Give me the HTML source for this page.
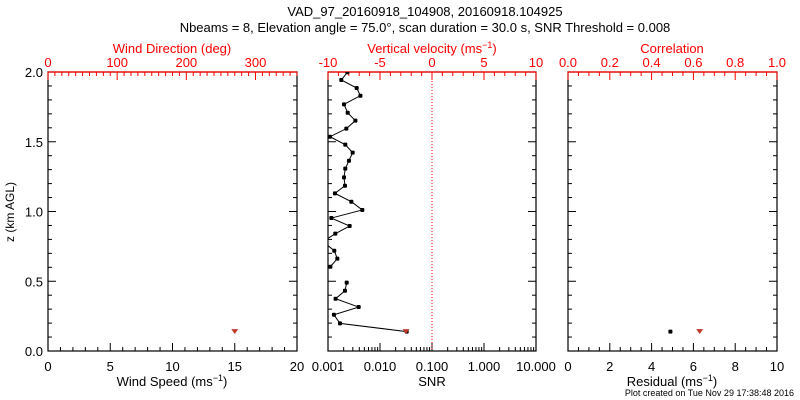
<!DOCTYPE html>
<html><head><meta charset="utf-8"><style>
body{margin:0;background:#fff}
svg{display:block;font-family:"Liberation Sans",sans-serif}
</style></head><body>
<svg id="c" width="800" height="400">
<text x="425" y="16" font-size="13" text-anchor="middle">VAD_97_20160918_104908, 20160918.104925</text>
<text x="425" y="32" font-size="13" text-anchor="middle">Nbeams = 8, Elevation angle = 75.0°, scan duration = 30.0 s, SNR Threshold = 0.008</text>
<text x="14" y="212" font-size="12" text-anchor="middle" transform="rotate(-90 14 212)">z (km AGL)</text>
<text x="794" y="396" font-size="9" text-anchor="end">Plot created on Tue Nov 29 17:38:48 2016</text>
</svg>
<script>
const heights=[1.998,1.943,1.885,1.830,1.768,1.708,1.651,1.594,1.536,1.479,1.422,1.364,1.307,1.245,1.185,1.130,1.070,1.011,0.953,0.896,0.841,0.784,0.719,0.662,0.604,0.547,0.490,0.432,0.375,0.315,0.260,0.198,0.139];
const snrValues=[0.00236,0.0018,0.00356,0.0042,0.00203,0.00239,0.00336,0.00225,0.00109,0.00215,0.00298,0.00253,0.00215,0.00203,0.00212,0.00136,0.00281,0.00457,0.00116,0.00261,0.00138,0.0008,0.00132,0.00151,0.00111,null,0.00229,0.00212,0.0014,0.00389,0.0013,0.0017,0.0326];
const windHeight=[0.139];
const windSpeed=[15];
const windDir=[null];
const vertVel=[-2.5];
const residual=[4.9];
const correlation=[0.63];
const yTicks=["0.0","0.5","1.0","1.5","2.0"];

const NS="http://www.w3.org/2000/svg";
const svg=document.getElementById('c');
function el(t,a,txt){const e=document.createElementNS(NS,t);for(const k in a)e.setAttribute(k,a[k]);if(txt!==undefined)e.textContent=txt;svg.appendChild(e);return e;}
const Y0=351,Y1=72;
const yS=v=>Y0-(v/2)*(Y0-Y1);
const panels=[{x0:48,x1:297,name:'wind'},{x0:328,x1:536,name:'snr'},{x0:568,x1:777,name:'resid'}];

panels.forEach((p,i)=>{const cp=el('clipPath',{id:'cp'+i});const r=document.createElementNS(NS,'rect');r.setAttribute('x',p.x0);r.setAttribute('y',Y1);r.setAttribute('width',p.x1-p.x0);r.setAttribute('height',Y0-Y1);cp.appendChild(r);});

function tick(x1,y1,x2,y2,c){const t=el('line',{x1,y1,x2,y2,stroke:c,'stroke-width':1});}
function label(x,y,s,c,name,anchor){const t=el('text',{x,y,'font-size':13,fill:c,'text-anchor':anchor||'middle'},s);}

panels.forEach((p,i)=>{
  const f=el('rect',{x:p.x0,y:Y1,width:p.x1-p.x0,height:Y0-Y1,fill:'none',stroke:'#000','stroke-width':1.2});
  
  for(let k=0;k<=20;k++){const y=yS(k/10);const L=k%5==0?8:4;
    tick(p.x0,y,p.x0+L,y,'#000');tick(p.x1,y,p.x1-L,y,'#000');}
  const tl=el('line',{x1:p.x0,y1:Y1,x2:p.x1,y2:Y1,stroke:'red','stroke-width':1.2});
  
});
yTicks.forEach((s,k)=>label(43,yS(k*0.5)+5,s,'#000','y-tick-label','end'));

function linAxis(p,min,max,major,minor,top,color,fmt){
  const sx=v=>p.x0+(v-min)/(max-min)*(p.x1-p.x0);
  const n=Math.round((max-min)/minor);
  for(let k=0;k<=n;k++){const v=min+k*minor;const isMaj=Math.abs(v/major-Math.round(v/major))<1e-6;const L=isMaj?8:4;
    if(top)tick(sx(v),Y1,sx(v),Y1+L,color);else tick(sx(v),Y0,sx(v),Y0-L,color);
    if(isMaj)label(sx(v),top?67:371,fmt(v),color,top?'top-tick-label':'bottom-tick-label');}
  return sx;
}
const P=panels;
const sWS=linAxis(P[0],0,20,5,1,false,'#000',v=>String(v));
const sWD=linAxis({x0:48,x1:297},0,360,100,10,true,'red',v=>v<=300?String(v):'');
const sVV=linAxis(P[1],-10,10,5,1,true,'red',v=>String(v));
const sRes=linAxis(P[2],0,10,2,0.5,false,'#000',v=>String(v));
const sCor=linAxis(P[2],0,1,0.2,0.05,true,'red',v=>v.toFixed(1));
const sSNR=v=>P[1].x0+(Math.log10(v)+3)/4*(P[1].x1-P[1].x0);
const logLabels=["0.001","0.010","0.100","1.000","10.000"];
for(let d=-3;d<=1;d++){tick(sSNR(10**d),Y0,sSNR(10**d),Y0-8,'#000');label(sSNR(10**d),371,logLabels[d+3],'#000','snr-tick-label');
  if(d<1)for(let m=2;m<=9;m++){const x=sSNR(m*10**d);tick(x,Y0,x,Y0-4,'#000');}}

function title(x,y,txt,sup,c,name){const t=el('text',{x,y,'font-size':13,fill:c,'text-anchor':'middle'});
  t.innerHTML=txt+(sup?'<tspan dy="-5" font-size="9">−1</tspan><tspan dy="5">)</tspan>':'');}
title(172,386,'Wind Speed (ms',true,'#000','x-axis-title-wind-speed');
title(172,53,'Wind Direction (deg)',false,'red','x-axis-title-wind-direction');
title(432,386,'SNR',false,'#000','x-axis-title-snr');
title(432,53,'Vertical velocity (ms',true,'red','x-axis-title-vertical-velocity');
title(672,386,'Residual (ms',true,'#000','x-axis-title-residual');
title(672,53,'Correlation',false,'red','x-axis-title-correlation');

const z=el('line',{x1:sVV(0),y1:Y1,x2:sVV(0),y2:Y0,stroke:'red','stroke-dasharray':'1,2'});


const g=el('g',{'clip-path':'url(#cp1)'});

let seg=[];const segs=[];
heights.forEach((h,i)=>{const v=snrValues[i];if(v==null){if(seg.length)segs.push(seg);seg=[];}else seg.push([sSNR(v),yS(h)]);});
if(seg.length)segs.push(seg);
segs.forEach(s=>{const pl=document.createElementNS(NS,'polyline');pl.setAttribute('points',s.map(q=>q.join(',')).join(' '));pl.setAttribute('fill','none');pl.setAttribute('stroke','#000');pl.setAttribute('stroke-width','1');
  
  
  g.appendChild(pl);
  s.forEach(q=>{const r=document.createElementNS(NS,'rect');r.setAttribute('x',q[0]-2);r.setAttribute('y',q[1]-2);r.setAttribute('width',4);r.setAttribute('height',4);r.setAttribute('rx',1);r.setAttribute('fill','#000');
    
    
    g.appendChild(r);});});

function mark(x,y,c,name){const m=el('path',{d:`M${x-2.5},${y-2}h5l-2.5,3.5z`,fill:c,stroke:c,'stroke-width':1});
  }
windHeight.forEach((h,i)=>{
  mark(sWS(windSpeed[i]),yS(h),'#c0392b','wind-speed-point');
  mark(sVV(vertVel[i]),yS(h),'#c0392b','vertical-velocity-point');
  const r=el('rect',{x:sRes(residual[i])-2,y:yS(h)-2,width:4,height:4,rx:1,fill:'#000'});
  
  mark(sCor(correlation[i]),yS(h),'#c0392b','correlation-point');
});
</script>
</body></html>
